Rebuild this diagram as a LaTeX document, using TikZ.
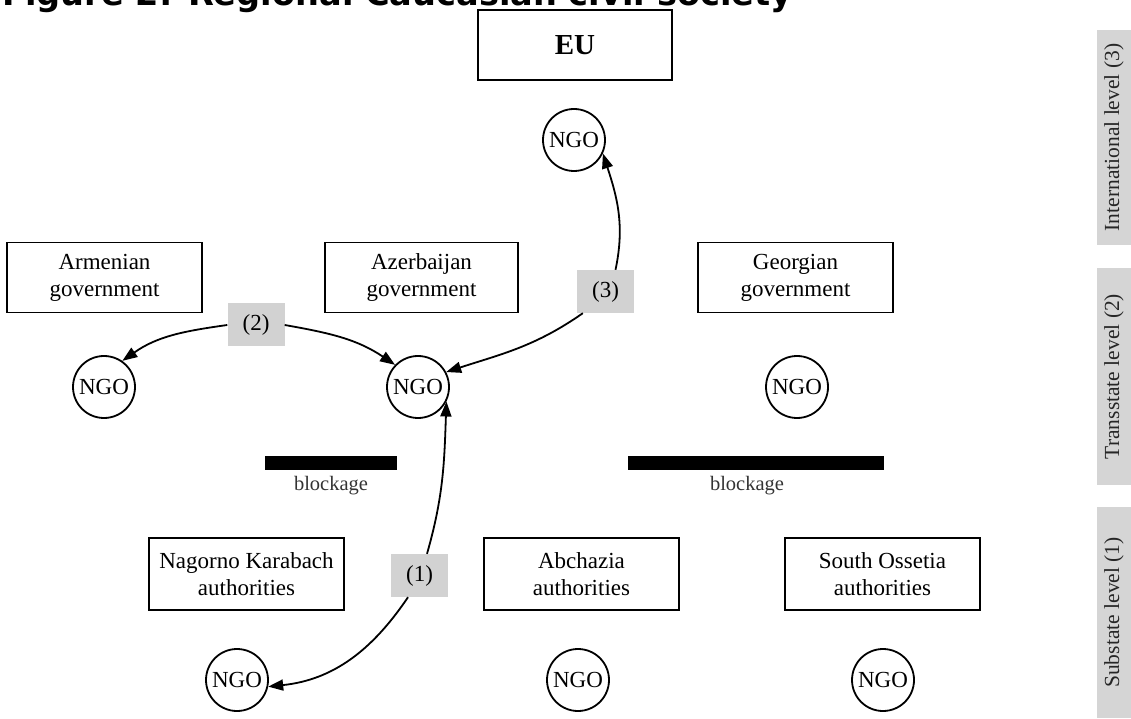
\documentclass[tikz,border=0pt]{standalone}
\usepackage{fontspec}
\setmainfont{Liberation Serif}
\newfontfamily\titlefont{DejaVu Sans}
\usetikzlibrary{arrows.meta,calc}
\newcommand\lblfont{\fontsize{23}{27}\selectfont}
\newcommand\levfont{\fontsize{21.5}{25}\selectfont}
\newcommand\blkfont{\fontsize{20.5}{24}\selectfont}
\tikzset{
  govbox/.style={draw, line width=1.8pt, minimum width=195pt, minimum height=70pt, align=center, font=\lblfont, inner sep=0pt},
  ngo/.style={draw, circle, line width=1.8pt, minimum size=62pt, inner sep=0pt, font=\lblfont},
  tag/.style={fill=gray!35, minimum width=57pt, minimum height=43pt, inner sep=0pt, font=\lblfont},
  conn/.style={line width=1.8pt, -{Triangle[length=15pt,width=11pt]}},
  lev/.style={fill=gray!33, minimum height=34pt, inner sep=0pt, rotate=90, font=\levfont, text=black!85},
  blockbar/.style={fill=black, inner sep=0pt, minimum height=14pt},
  blocktext/.style={font=\blkfont, text=black!80, inner sep=0pt},
}
\begin{document}
\begin{tikzpicture}[x=1pt,y=1pt]
\useasboundingbox (0,0) rectangle (1131,718);
\clip (0,0) rectangle (1131,718);
% title (cut off at top)
\node[anchor=base west, inner sep=0pt] (title) at (2,712) {\resizebox{790pt}{!}{\titlefont\bfseries Figure 2: Regional Caucasian civil society}};
% level bars
\node[lev, minimum width=215pt] (lev3) at (1114,580.5) {International level (3)};
\node[lev, minimum width=217pt] (lev2) at (1114,341.5) {Transstate level (2)};
\node[lev, minimum width=211pt] (lev1) at (1114,105.5) {Substate level (1)};
% international level
\node[govbox, minimum width=194pt, font=\fontsize{29}{33}\selectfont\bfseries] (eu) at (575,673) {EU};
\node[ngo] (ngoTop) at (574,578) {NGO};
% transstate level
\node[govbox] (arm) at (104.5,440.5) {Armenian\\government};
\node[govbox, minimum width=193pt] (aze) at (421.5,440.5) {Azerbaijan\\government};
\node[govbox] (geo) at (795.5,440.5) {Georgian\\government};
\node[ngo] (ngoL) at (104,331) {NGO};
\node[ngo] (ngoMid) at (418,331) {NGO};
\node[ngo] (ngoR) at (797,331) {NGO};
% blockages
\node[blockbar, minimum width=132pt] (bar1) at (331,255) {};
\node[blockbar, minimum width=256pt] (bar2) at (756,255) {};
\node[blocktext] (blk1) at (331,232) {blockage};
\node[blocktext] (blk2) at (747,232) {blockage};
% substate level
\node[govbox, minimum height=72pt] (nag) at (246.5,144) {Nagorno Karabach\\authorities};
\node[govbox, minimum height=72pt] (abc) at (581.5,144) {Abchazia\\authorities};
\node[govbox, minimum height=72pt] (oss) at (882.5,144) {South Ossetia\\authorities};
\node[ngo] (ngoBL) at (237,38) {NGO};
\node[ngo] (ngoBM) at (578,38) {NGO};
\node[ngo] (ngoBR) at (883,38) {NGO};
% labels on connectors
\node[tag] (lbl2) at (256,393) {(2)};
\node[tag] (lbl3) at (605.5,426.5) {(3)};
\node[tag] (lbl1) at (419.5,142.5) {(1)};
% connectors
\draw[conn] (lbl2.west) to[out=188,in=35] (ngoL.55);
\draw[conn] (lbl2.east) to[out=-10,in=146] (ngoMid.136);
\draw[conn] ([xshift=6pt]lbl3.south west) to[out=215,in=18] (ngoMid.28);
\draw[conn] ([xshift=10pt]lbl3.north) to[out=78,in=-72] (ngoTop.-25);
\draw[conn] ([xshift=7.5pt]lbl1.north) to[out=74,in=-92] (ngoMid.-27);
\draw[conn] ([xshift=-11.5pt]lbl1.south) to[out=236,in=6] (ngoBL.-12);
\end{tikzpicture}
\end{document}
